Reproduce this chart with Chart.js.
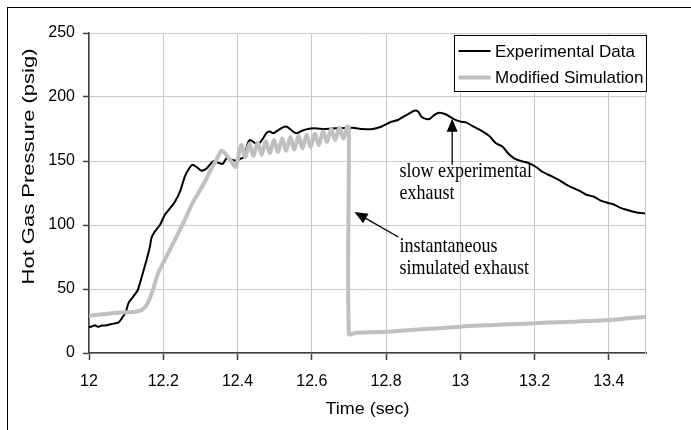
<!DOCTYPE html>
<html>
<head>
<meta charset="utf-8">
<script src="https://cdn.jsdelivr.net/npm/chart.js@4.4.1/dist/chart.umd.min.js"></script>
<style>
  html, body { margin: 0; padding: 0; background: #fff; }
  #wrap { width: 691px; height: 430px; position: relative; }
</style>
</head>
<body>
<div id="wrap"><canvas id="gasChart" width="691" height="430"></canvas></div>
<script>
// ---------------------------------------------------------------------------
// Hot gas pressure: experimental data vs modified simulation
// ---------------------------------------------------------------------------

// Experimental Data (black)
const expTime = [
  12.000, 12.010, 12.016, 12.025, 12.035, 12.045, 12.061, 12.079, 12.088, 12.099,
  12.106, 12.119, 12.131, 12.137, 12.146, 12.155, 12.164, 12.168, 12.177, 12.191,
  12.204, 12.218, 12.231, 12.245, 12.258, 12.267, 12.278, 12.289, 12.303, 12.316,
  12.330, 12.337, 12.348, 12.360, 12.370, 12.384, 12.397, 12.410, 12.419, 12.426,
  12.433, 12.442, 12.455, 12.469, 12.478, 12.487, 12.496, 12.509, 12.522, 12.533,
  12.545, 12.558, 12.572, 12.585, 12.608, 12.634, 12.666, 12.710, 12.737, 12.764,
  12.787, 12.800, 12.814, 12.832, 12.849, 12.863, 12.876, 12.887, 12.894, 12.903,
  12.917, 12.930, 12.944, 12.962, 12.984, 13.002, 13.015, 13.033, 13.056, 13.078,
  13.096, 13.114, 13.127, 13.145, 13.163, 13.181, 13.203, 13.221, 13.244, 13.266,
  13.284, 13.302, 13.320, 13.342, 13.360, 13.378, 13.396, 13.410, 13.428, 13.450,
  13.472, 13.500
];
const expPressure = [
  20.0, 21.0, 21.6, 20.5, 21.5, 21.5, 22.7, 23.7, 27.0, 32.0,
  38.8, 44.0, 49.0, 54.4, 63.5, 72.7, 83.0, 89.6, 94.8, 100.0,
  107.8, 113.0, 118.0, 126.0, 137.8, 143.0, 147.0, 145.5, 142.4, 144.0,
  148.7, 150.0, 148.7, 147.7, 152.0, 151.0, 150.3, 152.0, 153.4, 162.5,
  166.4, 165.0, 163.0, 167.7, 172.0, 173.0, 171.6, 174.0, 176.3, 176.8,
  174.0, 171.6, 173.4, 174.7, 175.5, 175.0, 175.5, 176.0, 175.0, 175.0,
  176.8, 178.6, 180.7, 182.0, 185.0, 187.2, 189.3, 188.5, 185.0, 183.3,
  182.8, 186.0, 187.7, 186.3, 182.5, 180.7, 180.2, 177.3, 173.7, 169.5,
  163.8, 161.2, 156.5, 152.0, 150.0, 148.7, 145.5, 141.6, 138.3, 135.0,
  131.8, 129.2, 126.8, 123.4, 122.1, 119.0, 117.4, 116.4, 113.8, 111.7,
  110.0, 109.0
];

// Modified Simulation (grey)
const simTime = [
  12.000, 12.043, 12.079, 12.124, 12.142, 12.155, 12.169, 12.186, 12.204, 12.222,
  12.240, 12.258, 12.276, 12.294, 12.312, 12.330, 12.343, 12.357, 12.370, 12.384,
  12.395, 12.410, 12.421, 12.432, 12.443, 12.454, 12.465, 12.476, 12.487, 12.498,
  12.509, 12.520, 12.531, 12.542, 12.553, 12.564, 12.575, 12.586, 12.597, 12.608,
  12.619, 12.630, 12.641, 12.652, 12.663, 12.674, 12.685, 12.696, 12.700, 12.700,
  12.720, 12.800, 13.000, 13.200, 13.400, 13.500
];
const simPressure = [
  29.0, 30.5, 31.5, 32.3, 33.6, 37.5, 46.6, 62.2, 72.7, 83.0,
  93.5, 104.0, 115.6, 124.7, 133.8, 144.3, 150.8, 158.0, 154.7, 149.5,
  145.5, 162.5, 153.0, 163.5, 154.0, 164.5, 155.0, 165.5, 156.0, 166.5,
  157.0, 167.5, 158.0, 168.5, 159.0, 169.5, 160.0, 170.5, 161.0, 171.5,
  162.5, 173.0, 165.0, 175.0, 166.5, 176.0, 167.5, 177.0, 176.0, 15.0,
  15.9, 16.6, 20.6, 23.2, 25.8, 28.4
];

const seriesLabels = ['Experimental Data', 'Modified Simulation'];

const xTicks = [12, 12.2, 12.4, 12.6, 12.8, 13, 13.2, 13.4];
const xTickLabels = ['12', '12.2', '12.4', '12.6', '12.8', '13', '13.2', '13.4'];
const yTicks = [0, 50, 100, 150, 200, 250];
const yTickLabels = ['0', '50', '100', '150', '200', '250'];

// callouts, anchored in data units (time, psig)
const notes = [
  { lines: ['slow experimental', 'exhaust'], x: 12.836, y: 137.5, tail: [12.978, 147], tip: [12.978, 183] },
  { lines: ['instantaneous', 'simulated exhaust'], x: 12.836, y: 78.9, tail: [12.833, 90.6], tip: [12.715, 110.2] }
];

const SANS = '"Liberation Sans", Arial, sans-serif';
const SERIF = '"Liberation Serif", "Times New Roman", serif';
const EXP_COLOR = '#000000';
const SIM_COLOR = '#c0c0c0';
const GRID_COLOR = '#c8c8c8';
const AXIS_COLOR = '#404040';

const toPoints = (xs, ys) => xs.map((x, i) => ({ x: x, y: ys[i] }));

// arrow with a filled head at the tip
function drawArrow(ctx, x0, y0, x1, y1) {
  const ang = Math.atan2(y1 - y0, x1 - x0);
  const len = 13, half = 5.5;
  ctx.beginPath();
  ctx.moveTo(x0, y0);
  ctx.lineTo(x1 - Math.cos(ang) * (len - 2), y1 - Math.sin(ang) * (len - 2));
  ctx.stroke();
  ctx.beginPath();
  ctx.moveTo(x1, y1);
  ctx.lineTo(x1 - Math.cos(ang) * len - Math.sin(ang) * half, y1 - Math.sin(ang) * len + Math.cos(ang) * half);
  ctx.lineTo(x1 - Math.cos(ang) * len + Math.sin(ang) * half, y1 - Math.sin(ang) * len - Math.cos(ang) * half);
  ctx.closePath();
  ctx.fill();
}

// text stretched along its run to a given length (the source font is wide)
function drawStretched(ctx, text, cx, baseY, targetW, rotate) {
  ctx.save();
  ctx.translate(cx, baseY);
  if (rotate) ctx.rotate(-Math.PI / 2);
  const w = ctx.measureText(text).width;
  ctx.scale(targetW / w, 1);
  ctx.textAlign = 'center';
  ctx.textBaseline = 'alphabetic';
  ctx.fillText(text, 0, 0);
  ctx.restore();
}

const decorPlugin = {
  id: 'decor',
  afterDatasetsDraw(chart) {
    const { ctx, chartArea: a, scales: { x, y } } = chart;
    ctx.save();

    // right edge of the plot
    ctx.strokeStyle = GRID_COLOR;
    ctx.lineWidth = 1;
    ctx.beginPath();
    ctx.moveTo(a.right - 0.5, a.top);
    ctx.lineTo(a.right - 0.5, a.bottom);
    ctx.stroke();

    // callouts
    ctx.fillStyle = '#000';
    ctx.strokeStyle = '#000';
    ctx.lineWidth = 1.3;
    ctx.font = '18px ' + SERIF;
    ctx.textAlign = 'left';
    ctx.textBaseline = 'alphabetic';
    notes.forEach(n => {
      const tx = x.getPixelForValue(n.x);
      const ty = y.getPixelForValue(n.y);
      n.lines.forEach((line, i) => {
        ctx.save();
        ctx.translate(tx, ty + i * 22);
        ctx.scale(1, 1.15);
        ctx.fillText(line, 0, 0);
        ctx.restore();
      });
      drawArrow(ctx,
        x.getPixelForValue(n.tail[0]), y.getPixelForValue(n.tail[1]),
        x.getPixelForValue(n.tip[0]), y.getPixelForValue(n.tip[1]));
    });

    // legend box, top right of the plot
    const bw = 192, bh = 56;
    const bx = Math.round(a.right - bw) + 0.5, by = Math.round(a.top + 2) + 0.5;
    ctx.fillStyle = '#fff';
    ctx.fillRect(bx, by, bw, bh);
    ctx.strokeStyle = '#000';
    ctx.lineWidth = 1;
    ctx.strokeRect(bx, by, bw, bh);
    const rows = [
      { label: seriesLabels[0], color: EXP_COLOR, width: 2 },
      { label: seriesLabels[1], color: SIM_COLOR, width: 4 }
    ];
    ctx.font = '17px ' + SANS;
    rows.forEach((r, i) => {
      const ly = by + 15.5 + i * 26.5;
      ctx.strokeStyle = r.color;
      ctx.lineWidth = r.width;
      ctx.beginPath();
      ctx.moveTo(bx + 4, ly);
      ctx.lineTo(bx + 36, ly);
      ctx.stroke();
      ctx.fillStyle = '#000';
      ctx.fillText(r.label, bx + 40.5, ly + 5.8);
    });
    ctx.restore();
  },
  afterDraw(chart) {
    const { ctx, chartArea: a } = chart;
    ctx.save();
    // outer figure frame (only top/left fall inside the picture)
    ctx.strokeStyle = '#000';
    ctx.lineWidth = 1;
    ctx.strokeRect(7.5, 7.5, 1000, 1000);

    // axis titles
    ctx.fillStyle = '#000';
    ctx.font = '16px ' + SANS;
    drawStretched(ctx, 'Time (sec)', (a.left + a.right) / 2, 414, 84, false);
    drawStretched(ctx, 'Hot Gas Pressure (psig)', 33.5, 166.5, 236, true);
    ctx.restore();
  }
};

new Chart(document.getElementById('gasChart'), {
  type: 'line',
  data: {
    datasets: [
      {
        label: seriesLabels[0],
        data: toPoints(expTime, expPressure),
        borderColor: EXP_COLOR,
        borderWidth: 2,
        pointRadius: 0,
        tension: 0.2,
        fill: false,
        order: 1
      },
      {
        label: seriesLabels[1],
        data: toPoints(simTime, simPressure),
        borderColor: SIM_COLOR,
        borderWidth: 4,
        pointRadius: 0,
        tension: 0.3,
        fill: false,
        order: 0
      }
    ]
  },
  options: {
    responsive: false,
    animation: false,
    layout: { padding: { left: 0, right: 45, top: 33, bottom: 0 } },
    plugins: {
      legend: { display: false },
      tooltip: { enabled: false }
    },
    scales: {
      x: {
        type: 'linear',
        min: 12,
        max: 13.5,
        afterBuildTicks: s => { s.ticks = xTicks.map(v => ({ value: v })); },
        afterFit: s => { s.height = 77; },
        ticks: {
          autoSkip: false,
          maxRotation: 0,
          padding: 12,
          color: '#000',
          font: { family: SANS, size: 16 },
          callback: (v, i) => xTickLabels[i]
        },
        grid: { color: GRID_COLOR, lineWidth: 1, tickLength: 7, tickColor: AXIS_COLOR, tickWidth: 1.5 },
        border: { color: AXIS_COLOR, width: 1.5 }
      },
      y: {
        type: 'linear',
        min: 0,
        max: 250,
        afterBuildTicks: s => { s.ticks = yTicks.map(v => ({ value: v })); },
        afterFit: s => { s.width = 89; },
        ticks: {
          padding: 8,
          color: '#000',
          font: { family: SANS, size: 16 },
          callback: (v, i) => yTickLabels[i]
        },
        grid: { color: GRID_COLOR, lineWidth: 1, tickLength: 6, tickColor: AXIS_COLOR, tickWidth: 1.5 },
        border: { color: AXIS_COLOR, width: 1.5 }
      }
    }
  },
  plugins: [decorPlugin]
});
</script>
</body>
</html>
